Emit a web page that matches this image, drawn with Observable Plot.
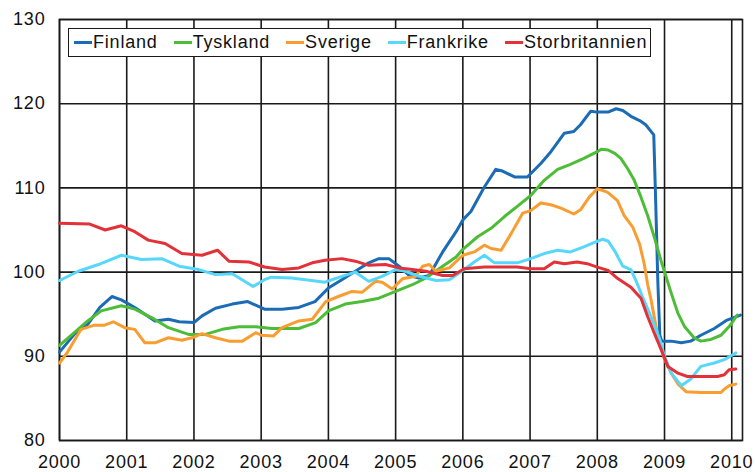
<!DOCTYPE html>
<html><head><meta charset="utf-8">
<script src="https://cdn.jsdelivr.net/npm/d3@7"></script>
<script src="https://cdn.jsdelivr.net/npm/@observablehq/plot@0.6"></script>
<style>
body{margin:0;background:#fff;}
#wrap{position:relative;width:755px;height:472px;}
#legend{position:absolute;left:68px;top:28px;width:583px;height:29px;box-sizing:border-box;border:1.5px solid #1a1a1a;background:#fff;display:flex;align-items:center;padding-left:5px;gap:16px;font:18px "Liberation Sans",Arial,sans-serif;letter-spacing:0.8px;color:#111;}
.item{display:flex;align-items:center;}
.sw{width:18px;height:3px;margin-right:1px;}
svg text{letter-spacing:0.8px;}
</style>
</head><body>
<div id="wrap"><div id="chart"></div><div id="legend"></div></div>
<script>
const seriesNames = ["Finland","Tyskland","Sverige","Frankrike","Storbritannien"];
const seriesColors = ["#1b6cb5","#4dbd38","#f99d31","#57d7fb","#e23138"];
const yearTicks = [2000,2001,2002,2003,2004,2005,2006,2007,2008,2009,2010];
const valueTicks = [80,90,100,110,120,130];

const finland = [[2000.0,90.5],[2000.22,92.6],[2000.42,93.8],[2000.6,95.8],[2000.78,97.1],[2000.92,96.7],[2001.12,95.8],[2001.42,94.2],[2001.62,94.4],[2001.78,94.1],[2002.0,94.0],[2002.12,94.8],[2002.32,95.7],[2002.57,96.2],[2002.8,96.5],[2003.05,95.6],[2003.31,95.6],[2003.56,95.8],[2003.8,96.5],[2004.0,98.1],[2004.2,99.1],[2004.4,100.1],[2004.6,101.1],[2004.75,101.6],[2004.9,101.6],[2005.05,100.7],[2005.2,99.6],[2005.35,99.3],[2005.5,99.6],[2005.7,102.4],[2005.9,104.8],[2006.0,106.2],[2006.12,107.2],[2006.32,110.1],[2006.49,112.2],[2006.59,112.0],[2006.77,111.3],[2006.96,111.3],[2007.16,112.9],[2007.31,114.3],[2007.51,116.5],[2007.65,116.7],[2007.75,117.5],[2007.9,119.1],[2008.0,119.0],[2008.16,119.0],[2008.28,119.4],[2008.38,119.2],[2008.5,118.5],[2008.63,118.0],[2008.72,117.5],[2008.84,116.3],[2008.87,108.0],[2008.9,99.0],[2008.93,92.5],[2008.96,91.8],[2009.1,91.8],[2009.25,91.6],[2009.39,91.8],[2009.54,92.5],[2009.74,93.3],[2009.93,94.3],[2010.13,94.9]];
const tyskland = [[2000.0,91.3],[2000.22,92.8],[2000.42,94.2],[2000.62,95.4],[2000.92,96.0],[2001.12,95.6],[2001.37,94.6],[2001.62,93.4],[2001.92,92.6],[2002.17,92.6],[2002.42,93.2],[2002.67,93.5],[2002.92,93.5],[2003.16,93.3],[2003.56,93.3],[2003.81,94.0],[2004.0,95.4],[2004.25,96.2],[2004.5,96.5],[2004.75,96.9],[2005.0,97.7],[2005.25,98.5],[2005.45,99.3],[2005.7,100.7],[2005.9,101.8],[2006.0,102.7],[2006.22,104.2],[2006.42,105.2],[2006.62,106.6],[2006.81,107.8],[2007.01,109.1],[2007.21,110.9],[2007.41,112.2],[2007.6,112.8],[2007.8,113.5],[2008.0,114.3],[2008.06,114.6],[2008.16,114.5],[2008.26,114.1],[2008.35,113.5],[2008.45,112.3],[2008.55,110.9],[2008.65,108.9],[2008.75,106.7],[2008.85,104.1],[2008.95,101.3],[2009.1,97.5],[2009.2,95.1],[2009.3,93.5],[2009.44,92.2],[2009.54,91.8],[2009.69,92.0],[2009.84,92.5],[2009.98,93.7],[2010.08,94.9]];
const sverige = [[2000.0,89.2],[2000.12,90.5],[2000.32,93.2],[2000.52,93.7],[2000.67,93.7],[2000.8,94.1],[2000.97,93.4],[2001.12,93.2],[2001.27,91.6],[2001.42,91.6],[2001.62,92.2],[2001.82,91.9],[2001.97,92.2],[2002.12,92.7],[2002.32,92.2],[2002.52,91.8],[2002.72,91.8],[2002.92,92.8],[2003.0,92.5],[2003.18,92.4],[2003.31,93.4],[2003.56,94.2],[2003.76,94.4],[2003.96,96.5],[2004.15,97.1],[2004.35,97.7],[2004.5,97.6],[2004.7,98.9],[2004.8,98.8],[2004.95,98.0],[2005.1,99.2],[2005.3,99.5],[2005.4,100.7],[2005.5,100.9],[2005.6,100.1],[2005.8,100.5],[2006.0,102.0],[2006.17,102.4],[2006.32,103.2],[2006.42,102.8],[2006.57,102.6],[2006.72,104.6],[2006.89,107.0],[2007.01,107.3],[2007.16,108.2],[2007.31,108.0],[2007.46,107.6],[2007.65,106.9],[2007.75,107.4],[2007.88,108.9],[2008.0,109.9],[2008.15,109.5],[2008.3,108.5],[2008.4,106.7],[2008.53,105.3],[2008.63,103.3],[2008.7,100.9],[2008.75,98.5],[2008.8,96.7],[2008.9,92.4],[2009.0,89.6],[2009.1,88.0],[2009.2,86.7],[2009.32,85.8],[2009.54,85.7],[2009.84,85.7],[2009.89,86.1],[2009.96,86.5],[2010.06,86.7]];
const frankrike = [[2000.0,99.0],[2000.28,100.1],[2000.58,100.9],[2000.92,102.0],[2001.22,101.5],[2001.52,101.6],[2001.78,100.7],[2002.07,100.3],[2002.32,99.7],[2002.57,99.8],[2002.88,98.3],[2003.05,99.1],[2003.15,99.4],[2003.45,99.3],[2003.75,99.0],[2003.95,98.8],[2004.2,99.5],[2004.4,100.0],[2004.6,98.9],[2004.8,99.5],[2005.0,100.3],[2005.15,100.1],[2005.35,99.5],[2005.6,99.0],[2005.8,99.1],[2006.02,100.3],[2006.17,101.2],[2006.32,102.0],[2006.47,101.1],[2006.81,101.1],[2007.01,101.6],[2007.21,102.2],[2007.41,102.6],[2007.6,102.4],[2007.8,103.0],[2007.95,103.5],[2008.08,103.9],[2008.16,103.7],[2008.26,102.5],[2008.38,100.7],[2008.5,100.3],[2008.58,98.9],[2008.67,97.1],[2008.8,94.7],[2008.93,92.0],[2009.0,90.0],[2009.1,88.0],[2009.25,86.5],[2009.39,87.3],[2009.54,88.8],[2009.74,89.2],[2009.89,89.6],[2010.06,90.4]];
const storbritannien = [[2000.0,105.8],[2000.45,105.7],[2000.68,105.0],[2000.92,105.5],[2001.12,104.8],[2001.32,103.8],[2001.57,103.4],[2001.82,102.2],[2002.12,102.0],[2002.35,102.6],[2002.52,101.3],[2002.82,101.2],[2003.05,100.6],[2003.31,100.3],[2003.56,100.5],[2003.76,101.1],[2003.95,101.4],[2004.2,101.6],[2004.4,101.3],[2004.6,100.8],[2004.85,100.9],[2005.05,100.5],[2005.25,100.3],[2005.45,100.1],[2005.7,99.6],[2005.85,99.6],[2006.02,100.4],[2006.32,100.6],[2006.81,100.6],[2007.01,100.4],[2007.21,100.4],[2007.36,101.2],[2007.51,101.0],[2007.7,101.2],[2007.85,101.0],[2008.0,100.6],[2008.16,100.2],[2008.31,99.2],[2008.5,98.2],[2008.65,96.9],[2008.75,94.7],[2008.85,92.7],[2008.95,90.8],[2009.05,88.8],[2009.2,88.0],[2009.34,87.6],[2009.54,87.6],[2009.79,87.6],[2009.89,87.8],[2009.96,88.4],[2010.06,88.5]];

const allSeries = [finland, tyskland, sverige, frankrike, storbritannien];
const rows = [];
allSeries.forEach((s, i) => s.forEach(([t, v]) => rows.push({name: seriesNames[i], t, v})));

const gridColor = "#1a1a1a";
const chart = Plot.plot({
  width: 755, height: 472,
  marginLeft: 59, marginRight: 13, marginTop: 19, marginBottom: 32,
  style: {fontFamily: '"Liberation Sans", Arial, sans-serif', fontSize: "18px", color: "#111", background: "#fff"},
  x: {domain: [2000, 2010.16]},
  y: {domain: [80, 130]},
  color: {domain: seriesNames, range: seriesColors},
  marks: [
    Plot.gridX(yearTicks, {stroke: gridColor, strokeOpacity: 1, strokeWidth: 1.6}),
    Plot.gridY(valueTicks, {stroke: gridColor, strokeOpacity: 1, strokeWidth: 1.6}),
    Plot.frame({stroke: gridColor, strokeWidth: 1.6}),
    Plot.line(rows, {x: "t", y: "v", z: "name", stroke: "name", strokeWidth: 3, strokeLinejoin: "round"}),
    Plot.axisX({ticks: yearTicks, tickSize: 0, tickPadding: 15, tickFormat: d => String(d), label: null, fontSize: 18}),
    Plot.axisY({ticks: valueTicks, tickSize: 0, tickPadding: 14, tickFormat: d => String(d), label: null, fontSize: 18})
  ]
});
document.getElementById("chart").appendChild(chart);

const legend = document.getElementById("legend");
seriesNames.forEach((n, i) => {
  const item = document.createElement("div");
  item.className = "item";
  const sw = document.createElement("span");
  sw.className = "sw";
  sw.style.background = seriesColors[i];
  const tx = document.createElement("span");
  tx.textContent = n;
  item.appendChild(sw); item.appendChild(tx);
  legend.appendChild(item);
});
</script>
</body></html>
